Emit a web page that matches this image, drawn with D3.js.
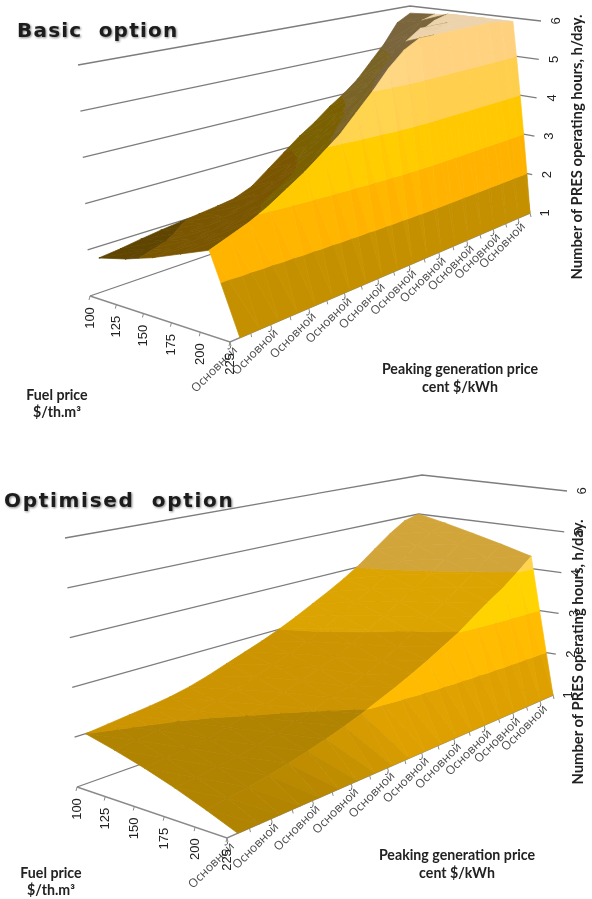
<!DOCTYPE html>
<html>
<head>
<meta charset="utf-8">
<script src="https://cdn.jsdelivr.net/npm/d3@7"></script>
<style>
  html, body { margin: 0; padding: 0; background: #fff; }
  svg { display: block; }
  .title { font-family: "DejaVu Sans"; font-weight: bold; font-size: 20px; fill: #1c1c1c; filter: drop-shadow(1px 1px 1.2px #888); white-space: pre; }
  .axis-title { font-family: Lato; font-weight: bold; font-size: 14.2px; fill: #222; text-anchor: middle; }
  .tick-label { font-family: "Liberation Sans"; font-size: 13px; fill: #222; text-anchor: middle; }
  .cat-label { font-family: "Open Sans"; font-size: 12px; fill: #4a4a4a; text-anchor: end; }
</style>
</head>
<body>
<div id="container"></div>
<script>
// categories and ticks
var fuelPrices = [100, 125, 150, 175, 200, 225];
var peakingCats = ["Основной", "Основной", "Основной", "Основной", "Основной", "Основной", "Основной", "Основной", "Основной", "Основной",
                   "Основной", "Основной", "Основной", "Основной", "Основной", "Основной", "Основной", "Основной", "Основной", "Основной"];
var hourTicks = [1, 2, 3, 4, 5, 6];

// hours per day, one list per fuel price
var basic100 = [1.75, 1.8, 1.87, 1.93, 1.98, 2.03, 2.08, 2.14, 2.3, 2.6, 2.9, 3.2, 3.45, 3.75, 4.0, 4.3, 4.7, 5.1, 5.6, 5.8];
var basic125 = [1.9, 1.95, 2.0, 2.05, 2.1, 2.15, 2.25, 2.4, 2.6, 2.9, 3.2, 3.55, 3.85, 4.15, 4.45, 4.75, 5.1, 5.45, 5.75, 5.85];
var basic150 = [2.1, 2.15, 2.2, 2.3, 2.4, 2.5, 2.65, 2.85, 3.1, 3.4, 3.75, 4.1, 4.45, 4.8, 5.1, 5.4, 5.7, 5.9, 6, 5.9];
var basic175 = [2.35, 2.45, 2.55, 2.7, 2.85, 3.05, 3.25, 3.5, 3.85, 4.2, 4.6, 5.0, 5.4, 5.75, 6, 6, 6, 6, 6, 5.9];
var basic200 = [2.6, 2.75, 2.9, 3.1, 3.35, 3.6, 3.9, 4.2, 4.6, 5.0, 5.45, 5.8, 6, 6, 6, 6, 6, 6, 5.95, 5.9];
var basic225 = [1, 1, 1, 1, 1, 1, 1, 1, 1, 1, 1, 1, 1, 1, 1, 1, 1, 1, 1, 1];

var optim100 = [2.0, 2.05, 2.1, 2.15, 2.21, 2.3, 2.42, 2.56, 2.7, 2.84, 3.0, 3.18, 3.38, 3.58, 3.8, 4.05, 4.35, 4.65, 4.9, 5.0];
var optim125 = [1.85, 1.9, 1.95, 2.0, 2.07, 2.15, 2.27, 2.42, 2.56, 2.7, 2.86, 3.05, 3.25, 3.45, 3.67, 3.9, 4.17, 4.45, 4.7, 4.85];
var optim150 = [1.68, 1.72, 1.77, 1.82, 1.9, 2.0, 2.1, 2.23, 2.37, 2.5, 2.64, 2.83, 3.03, 3.25, 3.48, 3.7, 3.95, 4.22, 4.5, 4.68];
var optim175 = [1.48, 1.52, 1.57, 1.62, 1.7, 1.8, 1.9, 2.02, 2.14, 2.25, 2.38, 2.56, 2.77, 2.98, 3.22, 3.47, 3.72, 3.98, 4.26, 4.5];
var optim200 = [1.25, 1.3, 1.35, 1.42, 1.5, 1.6, 1.7, 1.82, 1.95, 2.1, 2.25, 2.42, 2.6, 2.8, 3.0, 3.25, 3.5, 3.72, 4.0, 4.3];
var optim225 = [1, 1, 1, 1, 1, 1, 1, 1, 1, 1, 1, 1, 1, 1, 1, 1, 1, 1, 1, 1];

var bandEdges = [1, 2, 3, 4, 5, 7];
var basicColors = ["#c49000", "#ffb300", "#ffc800", "#ffcf4d", "#ffd27f"];
var optimColors = ["#dda000", "#ffb900", "#ffd000", "#ffcf4d", "#ffd27f"];
var mainColors = ["#b08300", "#cc9400", "#dca400", "#d2a53a", "#e0bc78"];
var plateauColor = "#edd3ac";

var svg = d3.select("#container").append("svg")
    .attr("width", 592)
    .attr("height", 899);

svg.append("defs").append("filter").attr("id", "soft")
    .append("feGaussianBlur").attr("stdDeviation", 0.35);

var root = svg.append("g").attr("filter", "url(#soft)");

function clampZ(z) { return Math.max(1, z); }

// cut a triangle down to the part between two z values
function clipBand(tri, lo, hi) {
    function clip(poly, inside, level) {
        var out = [];
        poly.forEach(function (p, n) {
            var q = poly[(n + 1) % poly.length];
            if (inside(p)) out.push(p);
            if (inside(p) !== inside(q)) {
                var t = (level - p.z) / (q.z - p.z);
                out.push({ i: p.i + t * (q.i - p.i), j: p.j + t * (q.j - p.j), z: level });
            }
        });
        return out;
    }
    var res = clip(tri, function (p) { return p.z >= lo; }, lo);
    if (res.length) res = clip(res, function (p) { return p.z <= hi; }, hi);
    return res;
}

function drawChart(cfg) {
    var g = root.append("g");
    var c = cfg.corners;

    var xIdx = d3.scaleLinear().domain([0, peakingCats.length - 1]).range([0, 1]);
    var surfU = d3.scaleLinear().domain([0, peakingCats.length - 1]).range([0.025, 1]);
    var yIdx = d3.scaleLinear().domain([0, fuelPrices.length - 1]).range([0, 1]);
    var zNorm = d3.scaleLinear().domain([1, 6]).range([0, 1]);
    // how far a facet has turned from the gentle top to the front slope
    var frontness = d3.scaleLinear().domain([-0.3, -1.1]).range([0, 1]).clamp(true);

    // 1d perspective on the two floor directions
    function warp(t, k) { return t / (t + k * (1 - t)); }

    // u along peaking axis, v along fuel axis, h up the wall
    function project(u, v, h) {
        var a = warp(u, 0.75), b = warp(v, 1.08);
        function mix(key) {
            var floor = d3.interpolateNumber(
                d3.interpolateNumber(c.backLeft[0][key], c.backRight[0][key])(a),
                d3.interpolateNumber(c.frontLeft[0][key], c.frontRight[0][key])(a))(b);
            var top = d3.interpolateNumber(
                d3.interpolateNumber(c.backLeft[1][key], c.backRight[1][key])(a),
                d3.interpolateNumber(c.frontLeft[1][key], c.frontRight[1][key])(a))(b);
            return floor + (top - floor) * h;
        }
        return [mix(0), mix(1)];
    }

    var line = d3.line();

    // wall gridlines
    g.append("g").selectAll("path").data(hourTicks).enter().append("path")
        .attr("d", function (d) {
            return line([project(0, 0, zNorm(d)), project(1, 0, zNorm(d)), project(1, 1, zNorm(d))]);
        })
        .attr("fill", "none")
        .attr("stroke", "#7d7d7d")
        .attr("stroke-width", 1.3);

    // floor axes
    g.append("path")
        .attr("d", line([project(0, 0, 0), project(0, 1, 0), project(1, 1, 0)]))
        .attr("fill", "none")
        .attr("stroke", "#8a8a8a")
        .attr("stroke-width", 1.4);

    g.append("g").selectAll("line").data(peakingCats).enter().append("line")
        .attr("x1", function (d, i) { return project(xIdx(i), 1, 0)[0]; })
        .attr("y1", function (d, i) { return project(xIdx(i), 1, 0)[1]; })
        .attr("x2", function (d, i) { return project(xIdx(i), 1, 0)[0] + 1; })
        .attr("y2", function (d, i) { return project(xIdx(i), 1, 0)[1] + 4; })
        .attr("stroke", "#8a8a8a");

    g.append("g").selectAll("line").data(fuelPrices).enter().append("line")
        .attr("x1", function (d, i) { return project(0, yIdx(i), 0)[0]; })
        .attr("y1", function (d, i) { return project(0, yIdx(i), 0)[1]; })
        .attr("x2", function (d, i) { return project(0, yIdx(i), 0)[0] - 1; })
        .attr("y2", function (d, i) { return project(0, yIdx(i), 0)[1] + 4; })
        .attr("stroke", "#8a8a8a");

    // surface, far cells first
    var surface = g.append("g");
    var rows = d3.range(cfg.values.length - 1);
    var cols = d3.range(peakingCats.length - 2, -1, -1);
    rows.forEach(function (j) {
        cols.forEach(function (i) {
            var p00 = { i: i, j: j, z: clampZ(cfg.values[j][i]) },
                p10 = { i: i + 1, j: j, z: clampZ(cfg.values[j][i + 1]) },
                p01 = { i: i, j: j + 1, z: clampZ(cfg.values[j + 1][i]) },
                p11 = { i: i + 1, j: j + 1, z: clampZ(cfg.values[j + 1][i + 1]) };
            [[p00, p10, p11], [p00, p11, p01]].forEach(function (tri) {
                // plane slopes, per column and per row
                var ux = tri[1].i - tri[0].i, uy = tri[1].j - tri[0].j, uz = tri[1].z - tri[0].z,
                    wx = tri[2].i - tri[0].i, wy = tri[2].j - tri[0].j, wz = tri[2].z - tri[0].z,
                    det = ux * wy - uy * wx,
                    dzdi = (uz * wy - uy * wz) / det,
                    dzdj = (ux * wz - uz * wx) / det;
                var isBack = dzdj > 0.02;
                var shade = isBack ? 0.48 : Math.min(1, 0.8 - 0.3 * dzdj) + 0.06 * dzdi;
                var flatTop = d3.min(tri, function (p) { return p.z; }) > 5.6 &&
                    Math.abs(dzdi) < 0.3 && dzdj > -0.3;
                d3.range(bandEdges.length - 1).forEach(function (b) {
                    var poly = clipBand(tri, bandEdges[b], bandEdges[b + 1]);
                    if (poly.length < 3) return;
                    var col = d3.rgb(cfg.colors[b]);
                    var fill = d3.rgb(col.r * shade, col.g * shade, col.b * shade).formatHex();
                    if (!isBack) fill = d3.rgb(d3.interpolateRgb(mainColors[b], fill)(frontness(dzdj))).formatHex();
                    if (flatTop) fill = plateauColor;
                    surface.append("path")
                        .attr("d", line(poly.map(function (p) {
                            return project(surfU(p.i), yIdx(p.j), zNorm(p.z));
                        })) + "Z")
                        .attr("fill", fill)
                        .attr("stroke", fill)
                        .attr("stroke-width", 0.7);
                });
            });
        });
    });

    // tick labels
    g.append("g").selectAll("text").data(peakingCats.filter(function (d, i) { return i % 2 === 0; })).enter().append("text")
        .attr("class", "cat-label")
        .attr("transform", function (d, i) {
            var p = project(xIdx(i * 2), 1, 0);
            return "translate(" + (p[0] + 8) + "," + (p[1] + 9) + ") rotate(-45)";
        })
        .text(function (d) { return d; });

    g.append("g").selectAll("text").data(fuelPrices).enter().append("text")
        .attr("class", "tick-label")
        .attr("transform", function (d, i) {
            var p = project(0, yIdx(i), 0);
            return "translate(" + (p[0] + 4) + "," + (p[1] + 22) + ") rotate(-90)";
        })
        .text(function (d) { return d; });

    g.append("g").selectAll("text").data(hourTicks).enter().append("text")
        .attr("class", "tick-label")
        .attr("transform", function (d) {
            var p = project(1, 1, zNorm(d));
            return "translate(" + (p[0] + cfg.hourLabelDx) + "," + p[1] + ") rotate(-90)";
        })
        .text(function (d) { return d; });

    // titles
    g.append("text").attr("class", "title")
        .attr("x", cfg.title.x).attr("y", cfg.title.y)
        .style("letter-spacing", cfg.title.spacing)
        .text(cfg.title.text);

    cfg.fuelTitle.lines.forEach(function (t, n) {
        g.append("text").attr("class", "axis-title")
            .attr("x", cfg.fuelTitle.x).attr("y", cfg.fuelTitle.y + n * 17)
            .text(t);
    });
    cfg.peakTitle.lines.forEach(function (t, n) {
        g.append("text").attr("class", "axis-title")
            .attr("x", cfg.peakTitle.x).attr("y", cfg.peakTitle.y + n * 18)
            .text(t);
    });
    g.append("text").attr("class", "axis-title")
        .attr("transform", "translate(" + cfg.hourTitle.x + "," + cfg.hourTitle.y + ") rotate(-90)")
        .style("font-size", "14.8px")
        .text("Number of PRES operating hours, h/day.");
}

drawChart({
    values: [basic100, basic125, basic150, basic175, basic200, basic225],
    colors: basicColors,
    corners: {
        backLeft: [[90, 296], [78, 65]],
        backRight: [[412, 185], [410, 6]],
        frontLeft: [[230, 342], [228, 93]],
        frontRight: [[530, 213], [541, 21]]
    },
    hourLabelDx: 19,
    title: { x: 17, y: 37, text: "Basic  option", spacing: "1.2px" },
    fuelTitle: { x: 57, y: 400, lines: ["Fuel price", "$/th.m³"] },
    peakTitle: { x: 460, y: 374, lines: ["Peaking generation price", "cent $/kWh"] },
    hourTitle: { x: 582, y: 147 }
});

drawChart({
    values: [optim100, optim125, optim150, optim175, optim200, optim225],
    colors: optimColors,
    corners: {
        backLeft: [[77, 787], [65, 538]],
        backRight: [[405, 670], [422, 475]],
        frontLeft: [[227, 838], [225, 575]],
        frontRight: [[553, 695], [567, 491]]
    },
    hourLabelDx: 19,
    title: { x: 4, y: 507, text: "Optimised  option", spacing: "1.7px" },
    fuelTitle: { x: 51, y: 878, lines: ["Fuel price", "$/th.m³"] },
    peakTitle: { x: 457, y: 860, lines: ["Peaking generation price", "cent $/kWh"] },
    hourTitle: { x: 583, y: 652 }
});
</script>
</body>
</html>
